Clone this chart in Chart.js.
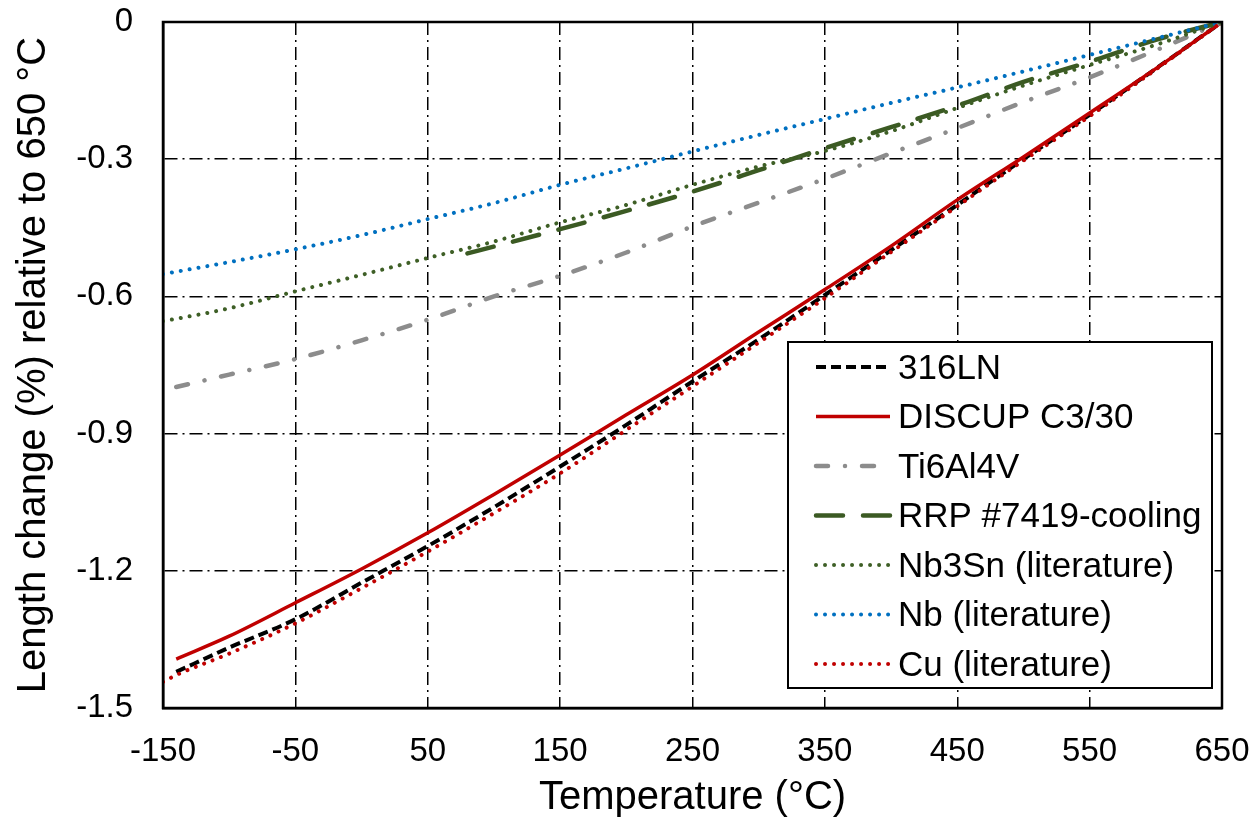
<!DOCTYPE html>
<html>
<head>
<meta charset="utf-8">
<script src="https://cdn.jsdelivr.net/npm/chart.js@4.4.1/dist/chart.umd.min.js"></script>
<style>
  html, body { margin: 0; padding: 0; background: #fff; }
</style>
</head>
<body>
<canvas id="chart" width="1253" height="822"></canvas>
<script>
// Temperatures (°C) the curves are read at
const temps = [-150, -140, -100, -50, 0, 50, 100, 150, 200, 250, 300, 350, 400, 450, 500, 550, 600, 650];
const rrpTemps = [80, 100, 150, 200, 250, 300, 350, 400, 450, 500, 550, 600, 650];

// Length change (%) relative to 650 °C
const ln316  = [null, -1.421, -1.368, -1.306, -1.226, -1.146, -1.061, -0.972, -0.881, -0.786, -0.694, -0.597, -0.499, -0.400, -0.300, -0.203, -0.102, 0];
const discup = [null, -1.393, -1.343, -1.270, -1.196, -1.117, -1.033, -0.947, -0.859, -0.772, -0.678, -0.585, -0.490, -0.389, -0.295, -0.199, -0.102, 0];
const ti6al4v = [null, -0.798, -0.771, -0.737, -0.696, -0.651, -0.600, -0.555, -0.504, -0.447, -0.395, -0.343, -0.287, -0.232, -0.175, -0.121, -0.062, 0];
const rrp    = [-0.506, -0.491, -0.453, -0.413, -0.371, -0.324, -0.276, -0.230, -0.183, -0.131, -0.087, -0.039, 0];
const nb3sn  = [-0.654, -0.649, -0.626, -0.589, -0.553, -0.516, -0.480, -0.438, -0.400, -0.356, -0.316, -0.282, -0.239, -0.188, -0.139, -0.094, -0.050, 0];
const nb     = [-0.551, -0.546, -0.525, -0.497, -0.466, -0.431, -0.396, -0.356, -0.320, -0.283, -0.247, -0.212, -0.177, -0.143, -0.108, -0.072, -0.036, 0];
const cu     = [-1.443, -1.428, -1.381, -1.315, -1.238, -1.158, -1.074, -0.987, -0.892, -0.797, -0.701, -0.604, -0.503, -0.403, -0.303, -0.206, -0.104, 0];

const xTicks = [-150, -50, 50, 150, 250, 350, 450, 550, 650];
const yTicks = [0, -0.3, -0.6, -0.9, -1.2, -1.5];

const FONT = '"Liberation Sans", Arial, sans-serif';

function pts(xs, ys) {
    return xs.map((x, i) => ({ x: x, y: ys[i] })).filter(p => p.y !== null);
}

function series(label, xs, ys, color, width, dash, cap, order) {
    return {
        label: label,
        data: pts(xs, ys),
        borderColor: color,
        borderWidth: width,
        borderDash: dash,
        borderCapStyle: cap,
        pointRadius: 0,
        fill: false,
        cubicInterpolationMode: 'monotone',
        order: order
    };
}

// frame round the plot + boxed legend inside it
const frameAndLegend = {
    id: 'frameAndLegend',
    afterDraw(chart) {
        const ctx = chart.ctx;
        const a = chart.chartArea;
        ctx.save();
        ctx.strokeStyle = '#000';
        ctx.lineWidth = 2.5;
        ctx.setLineDash([]);
        ctx.strokeRect(a.left, a.top, a.right - a.left, a.bottom - a.top);

        const bx = a.right - 434, by = a.top + 320, bw = 424, bh = 346;
        ctx.fillStyle = '#fff';
        ctx.fillRect(bx, by, bw, bh);
        ctx.lineWidth = 2;
        ctx.strokeRect(bx, by, bw, bh);

        ctx.font = '35px ' + FONT;
        ctx.textBaseline = 'middle';
        chart.data.datasets.forEach((ds, i) => {
            const y = by + 25 + i * 49.5;
            ctx.beginPath();
            ctx.strokeStyle = ds.borderColor;
            ctx.lineWidth = ds.borderWidth;
            ctx.lineCap = ds.borderCapStyle;
            ctx.setLineDash(ds.borderDash);
            ctx.moveTo(bx + 28, y);
            ctx.lineTo(bx + 102, y);
            ctx.stroke();
            ctx.setLineDash([]);
            ctx.fillStyle = '#000';
            ctx.fillText(ds.label, bx + 110, y + 2);
        });
        ctx.restore();
    }
};

const gridDash = [13, 5, 2, 5];

new Chart(document.getElementById('chart'), {
    type: 'line',
    data: {
        datasets: [
            series('316LN', temps, ln316, '#000000', 4, [10, 5], 'butt', 6),
            series('DISCUP C3/30', temps, discup, '#C00000', 3.5, [], 'butt', 5),
            series('Ti6Al4V', temps, ti6al4v, '#8C8C8C', 4.5, [12, 17, 0.01, 17], 'round', 4),
            series('RRP #7419-cooling', rrpTemps, rrp, '#3B5A23', 4.5, [27, 20], 'round', 3),
            series('Nb3Sn (literature)', temps, nb3sn, '#3E5F26', 4, [0.01, 9], 'round', 2),
            series('Nb (literature)', temps, nb, '#0070C0', 4, [0.01, 9], 'round', 1),
            series('Cu (literature)', temps, cu, '#C00000', 4, [0.01, 9], 'round', 0)
        ]
    },
    options: {
        responsive: false,
        animation: false,
        devicePixelRatio: 1,
        layout: { padding: { top: 22, right: 31, left: 0, bottom: 0 } },
        plugins: {
            legend: { display: false },
            tooltip: { enabled: false }
        },
        scales: {
            x: {
                type: 'linear',
                min: -150,
                max: 650,
                afterBuildTicks: s => { s.ticks = xTicks.map(v => ({ value: v })); },
                afterFit: s => { s.height = 114; s.paddingLeft = 0; s.paddingRight = 0; },
                ticks: {
                    color: '#000',
                    font: { family: FONT, size: 33 },
                    padding: 24,
                    maxRotation: 0,
                    callback: v => String(v)
                },
                grid: { color: '#000', lineWidth: 1.5, drawTicks: false, tickLength: 0 },
                border: { display: true, color: '#000', width: 2.5, dash: gridDash },
                title: {
                    display: true,
                    text: 'Temperature (°C)',
                    color: '#000',
                    font: { family: FONT, size: 40 },
                    padding: { top: 0, bottom: 0 }
                }
            },
            y: {
                min: -1.5,
                max: 0,
                afterBuildTicks: s => { s.ticks = yTicks.map(v => ({ value: v })); },
                afterFit: s => { s.width = 163; s.paddingTop = 0; s.paddingBottom = 0; },
                ticks: {
                    color: '#000',
                    font: { family: FONT, size: 33 },
                    padding: 30,
                    callback: v => String(Math.round(v * 10) / 10)
                },
                grid: { color: '#000', lineWidth: 1.5, drawTicks: false, tickLength: 0 },
                border: { display: true, color: '#000', width: 2.5, dash: gridDash },
                title: {
                    display: true,
                    text: 'Length change (%) relative to 650 °C',
                    color: '#000',
                    font: { family: FONT, size: 40 },
                    padding: { top: 10, bottom: 0 }
                }
            }
        }
    },
    plugins: [frameAndLegend]
});
</script>
</body>
</html>
